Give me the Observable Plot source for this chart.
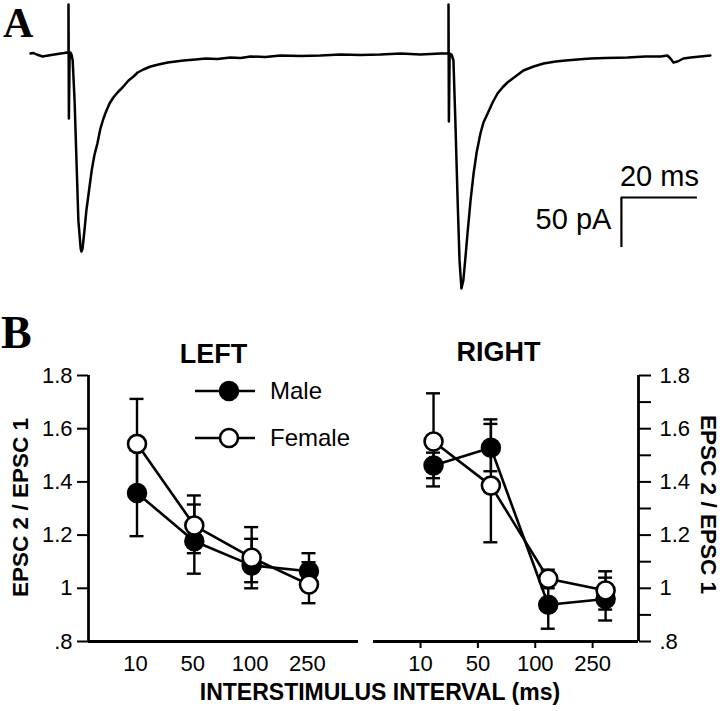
<!DOCTYPE html>
<html><head><meta charset="utf-8">
<script src="https://cdn.jsdelivr.net/npm/d3@7"></script>
<script src="https://cdn.jsdelivr.net/npm/@observablehq/plot@0.6"></script>
<style>
html,body{margin:0;padding:0;background:#fff;}
#fig{position:relative;width:720px;height:711px;overflow:hidden;background:#fff;}
#fig svg{position:absolute;}
</style></head><body><div id="fig"></div>
<script>
// ---------- Panel A: EPSC trace (time ms, current pA) ----------
const tracePoints = [
[0,0],[0.8,0.5],[1.6,-1],[2.4,-2],[3.2,-3],[3.9,-2.5],[4.7,-2],[5.5,-1.5],[6.3,-1],[7.1,-0.5],[7.9,0],[8.9,0.5],[9.7,1],
[10.0,0],[10.0,49],[10.1,-65],[10.3,0],[10.5,1],[10.8,-1],
[11.1,-7],[11.6,-47],[12.1,-107],[12.6,-167],[13.2,-195],[13.4,-198],[13.7,-195],[14.2,-177],[14.7,-157],[15.3,-140],[16.1,-117],[16.8,-102],[17.6,-90],[18.4,-75],[19.2,-65],[20.0,-57],[20.8,-50],[21.8,-44],[22.9,-39],[24.2,-34],[25.8,-27],[27.1,-23],[28.2,-19],[29.7,-16],[31.6,-13],[33.7,-11],[36.1,-9],[38.2,-8],[40.3,-7],[43.4,-6],[46.1,-5],[49.2,-5.5],[52.6,-4],[55.3,-4.5],[57.9,-3],[61.8,-3.5],[65.8,-2],[71.1,-2.5],[76.3,-2],[81.6,-1],[86.8,-1.5],[92.1,-1],[97.4,0],[102.6,-1],[107.9,0],[109.5,0],
[110.0,0],[110.0,49],[110.1,-68],[110.3,0],[110.8,-1],[111.3,-7],[111.8,-67],[112.4,-147],[112.9,-207],[113.4,-235],[113.9,-227],[114.5,-202],[115.0,-180],[115.8,-147],[116.6,-120],[117.4,-99],[118.4,-80],[119.2,-69],[120.3,-60],[121.6,-49],[122.9,-40],[124.2,-34],[125.5,-29],[127.6,-23],[129.7,-17],[132.4,-13],[135.0,-10],[138.2,-8],[140.8,-7],[143.9,-6],[147.4,-5],[151.3,-4.5],[157.1,-4],[161.8,-3],[165.8,-3],[167.6,-2],[168.4,-5],[169.2,-9],[170.3,-8],[171.8,-5],[173.7,-4],[176.3,-3],[178.9,-2]
];
const scaleBar = {t: 155.5, i: -144, ms: 20, pA: 50};
const scaleBarLabels = ["20 ms", "50 pA"];

// ---------- Panel B: paired-pulse ratios ----------
const isiLabels = ["10", "50", "100", "250"];
const panelTitles = ["LEFT", "RIGHT"];
const seriesNames = ["Male", "Female"];
const yTickValues = [0.8, 1.0, 1.2, 1.4, 1.6, 1.8];
const yTickLabels = [".8", "1", "1.2", "1.4", "1.6", "1.8"];
const yMinorTicks = [0.8, 0.9, 1.0, 1.1, 1.2, 1.3, 1.4, 1.5, 1.6, 1.7, 1.8];
const yTitle = "EPSC 2 / EPSC 1";
const xTitle = "INTERSTIMULUS INTERVAL (ms)";

const leftMale     = [1.358, 1.177, 1.086, 1.064];
const leftMaleLo   = [1.196, 1.055, 1.023, 0.995];
const leftMaleHi   = [1.520, 1.315, 1.186, 1.132];
const leftFemale   = [1.543, 1.236, 1.115, 1.014];
const leftFemaleLo = [1.376, 1.132, 1.000, 0.944];
const leftFemaleHi = [1.712, 1.349, 1.230, 1.098];

const rightMale     = [1.462, 1.528, 0.938, 0.960];
const rightMaleLo   = [1.414, 1.440, 0.848, 0.879];
const rightMaleHi   = [1.510, 1.635, 1.030, 1.040];
const rightFemale   = [1.552, 1.386, 1.036, 0.992];
const rightFemaleLo = [1.383, 1.173, 1.000, 0.920];
const rightFemaleHi = [1.733, 1.618, 1.070, 1.064];

function rows(sex, v, lo, hi) {
  return isiLabels.map((lab, i) => ({i, sex, v: v[i], lo: lo[i], hi: hi[i]}));
}
const leftRows = [...rows("Male", leftMale, leftMaleLo, leftMaleHi), ...rows("Female", leftFemale, leftFemaleLo, leftFemaleHi)];
const rightRows = [...rows("Male", rightMale, rightMaleLo, rightMaleHi), ...rows("Female", rightFemale, rightFemaleLo, rightFemaleHi)];

const SANS = '"Liberation Sans", Arial, Helvetica, sans-serif';
const SERIF = '"Liberation Serif", "Times New Roman", serif';
const fig = document.getElementById("fig");

function place(el, left, top) {
  el.style.position = "absolute";
  el.style.left = left + "px";
  el.style.top = top + "px";
  el.style.background = "transparent";
  el.style.maxWidth = "none";
  fig.appendChild(el);
}

// ---- Panel A plot ----
const traceData = tracePoints.map(([t, i]) => ({t, i}));
const plotA = Plot.plot({
  width: 720, height: 300,
  marginLeft: 30, marginRight: 8, marginTop: 0, marginBottom: 0,
  x: {domain: [0, 179.47], axis: null},
  y: {domain: [-247, 53], axis: null},
  style: {fontFamily: SANS, fontSize: "29px", color: "black", background: "transparent"},
  marks: [
    Plot.line(traceData, {x: "t", y: "i", stroke: "black", strokeWidth: 2.5, strokeLinejoin: "round"}),
    Plot.ruleY([scaleBar], {y: "i", x1: "t", x2: d => d.t + d.ms, stroke: "black", strokeWidth: 2.2}),
    Plot.ruleX([scaleBar], {x: "t", y1: "i", y2: d => d.i - d.pA, stroke: "black", strokeWidth: 2.2}),
    Plot.text([scaleBar], {x: d => d.t + d.ms / 2, y: "i", text: () => scaleBarLabels[0], dy: -21, fontSize: 29, fill: "black"}),
    Plot.text([scaleBar], {x: "t", y: d => d.i - d.pA / 2, text: () => scaleBarLabels[1], textAnchor: "end", dx: -10, dy: -3, fontSize: 29, fill: "black"})
  ]
});
place(plotA, 0, 0);

// ---- Panel B helper ----
const capHalf = 0.122;
function panelMarks(data, dxp) {
  const male = data.filter(d => d.sex === "Male");
  const female = data.filter(d => d.sex === "Female");
  const eb = [];
  for (const set of [male, female]) {
    eb.push(Plot.ruleX(set, {x: "i", y1: "lo", y2: "hi", stroke: "black", strokeWidth: 2.4, dx: dxp}));
    eb.push(Plot.ruleY(set, {y: "hi", x1: d => d.i - capHalf, x2: d => d.i + capHalf, stroke: "black", strokeWidth: 2.4, dx: dxp}));
    eb.push(Plot.ruleY(set, {y: "lo", x1: d => d.i - capHalf, x2: d => d.i + capHalf, stroke: "black", strokeWidth: 2.4, dx: dxp}));
  }
  return [
    ...eb,
    Plot.line(male, {x: "i", y: "v", stroke: "black", strokeWidth: 2.6, dx: dxp}),
    Plot.line(female, {x: "i", y: "v", stroke: "black", strokeWidth: 2.6, dx: dxp}),
    Plot.dot(male, {x: "i", y: "v", r: 9, fill: "black", stroke: "black", strokeWidth: 2.5, dx: dxp}),
    Plot.dot(female, {x: "i", y: "v", r: 9, fill: "white", stroke: "black", strokeWidth: 2.6, dx: dxp})
  ];
}
function yLabel(d) {
  const k = yTickValues.findIndex(v => Math.abs(v - d) < 1e-9);
  return k >= 0 ? yTickLabels[k] : "";
}

// ---- Left plot ----
const xDomL = [-0.82, 3.89];
const plotL = Plot.plot({
  width: 360, height: 400,
  marginLeft: 88, marginRight: 2, marginTop: 65, marginBottom: 69,
  x: {domain: xDomL},
  y: {domain: [0.8, 1.8]},
  style: {fontFamily: SANS, fontSize: "22px", color: "black", background: "transparent", overflow: "visible"},
  marks: [
    Plot.axisY({ticks: yTickValues, tickFormat: yLabel, tickSize: 11, tickPadding: 5, strokeWidth: 2, label: null, fontSize: 22}),
    Plot.axisX({ticks: [0, 1, 2, 3], tickFormat: i => isiLabels[i], tickSize: 0, tickPadding: 14, label: null, fontSize: 22}),
    Plot.ruleY([0.8], {stroke: "black", strokeWidth: 2.8}),
    Plot.ruleX([xDomL[0]], {stroke: "black", strokeWidth: 2.8}),
    ...panelMarks(leftRows, 1.5),
    Plot.text([panelTitles[0]], {frameAnchor: "top", lineAnchor: "middle", dx: -10, dy: -21, fontWeight: "bold", fontSize: 27, fill: "black"}),
    Plot.text([yTitle], {frameAnchor: "left", textAnchor: "middle", lineAnchor: "middle", dx: -68, dy: -1, rotate: -90, fontWeight: "bold", fontSize: 22.5, fill: "black"})
  ]
});
place(plotL, 0, 310);

// ---- Right plot ----
const xDomR = [-0.82, 3.80];
const plotR = Plot.plot({
  width: 360, height: 400,
  marginLeft: 13, marginRight: 82, marginTop: 65, marginBottom: 69,
  x: {domain: xDomR},
  y: {domain: [0.8, 1.8]},
  style: {fontFamily: SANS, fontSize: "22px", color: "black", background: "transparent", overflow: "visible"},
  marks: [
    Plot.axisY({anchor: "right", ticks: yMinorTicks, tickFormat: yLabel, tickSize: 12, tickPadding: 9, strokeWidth: 2, label: null, fontSize: 22}),
    Plot.axisX({ticks: [0, 1, 2, 3], tickFormat: i => isiLabels[i], tickSize: 7, tickPadding: 7, strokeWidth: 2, label: null, fontSize: 22}),
    Plot.ruleY([0.8], {stroke: "black", strokeWidth: 2.8}),
    Plot.ruleX([xDomR[1]], {stroke: "black", strokeWidth: 2.8}),
    ...panelMarks(rightRows, 13),
    Plot.text([panelTitles[1]], {frameAnchor: "top", lineAnchor: "middle", dx: -7.5, dy: -23, fontWeight: "bold", fontSize: 27, fill: "black"}),
    Plot.text([yTitle], {frameAnchor: "right", textAnchor: "middle", lineAnchor: "middle", dx: 70, dy: -4, rotate: 90, fontWeight: "bold", fontSize: 22.5, fill: "black"})
  ]
});
place(plotR, 360, 310);

// ---- Overlay: panel letters, legend, shared x title ----
const ov = d3.create("svg").attr("width", 720).attr("height", 711)
  .style("position", "absolute").style("left", "0px").style("top", "0px").style("pointer-events", "none");
ov.append("text").attr("x", 3).attr("y", 37).attr("font-family", SERIF).attr("font-weight", "bold").attr("font-size", 42).text("A");
ov.append("text").attr("x", 1).attr("y", 348).attr("font-family", SERIF).attr("font-weight", "bold").attr("font-size", 46).text("B");
const legY = [391, 438];
seriesNames.forEach((name, k) => {
  const g = ov.append("g");
  g.append("line").attr("x1", 195).attr("x2", 255).attr("y1", legY[k]).attr("y2", legY[k]).attr("stroke", "black").attr("stroke-width", 2.6);
  g.append("circle").attr("cx", 229).attr("cy", legY[k]).attr("r", 9).attr("fill", k === 0 ? "black" : "white").attr("stroke", "black").attr("stroke-width", 2.6);
  g.append("text").attr("x", 270).attr("y", legY[k]).attr("dy", "0.35em").attr("font-family", SANS).attr("font-size", 24).text(name);
});
ov.append("text").attr("x", 380).attr("y", 700).attr("text-anchor", "middle").attr("font-family", SANS).attr("font-weight", "bold").attr("font-size", 23).text(xTitle);
fig.appendChild(ov.node());
</script></body></html>
